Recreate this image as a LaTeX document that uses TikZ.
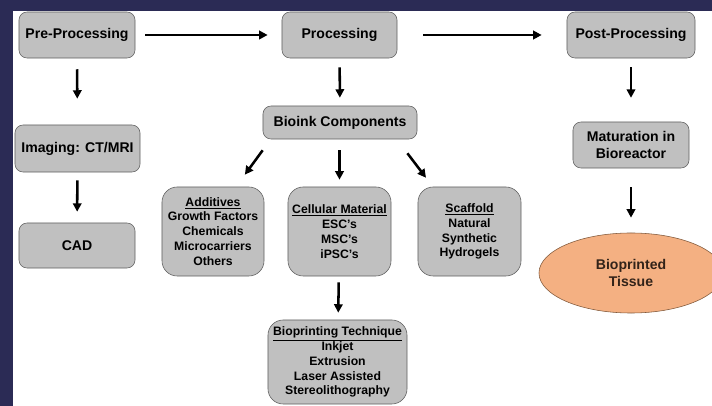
\documentclass[tikz,border=0pt]{standalone}
\usepackage{fontspec}
\setmainfont{Liberation Sans}
\usetikzlibrary{arrows.meta,shapes.geometric}
\definecolor{slidebg}{RGB}{43,43,85}
\definecolor{boxgray}{RGB}{192,192,192}
\definecolor{boxline}{RGB}{95,95,95}
\definecolor{tissue}{RGB}{244,176,130}
\definecolor{tissueline}{RGB}{130,90,60}

\begin{document}
\begin{tikzpicture}[x=0.025cm,y=-0.025cm,
    stage/.style={draw=boxline,fill=boxgray,rounded corners=0.2cm,inner sep=0pt,align=center,
      font=\bfseries\fontsize{10}{12.6}\selectfont},
    listbox/.style={stage,rounded corners=0.38cm,font=\bfseries\fontsize{8.7}{10.6}\selectfont},
    flow/.style={line width=1.8pt,-{Triangle[length=6pt,width=6pt]}}]
            % slide background
            \fill[slidebg] (0,0) rectangle (712,406);
            \fill[white] (13,11) rectangle (712,406);
            \useasboundingbox (0,0) rectangle (712,406);
            % stages
            \node[stage,minimum width=2.9cm,minimum height=1.15cm] (pre) at (77,35) {Pre-Processing};
            \node[stage,minimum width=2.875cm,minimum height=1.15cm] (proc) at (339.5,35) {Processing};
            \node[stage,minimum width=3.2cm,minimum height=1.15cm] (post) at (631,35) {Post-Processing};
            \node[stage,minimum width=3.125cm,minimum height=1.175cm] (img) at (77.5,148.5) {Imaging: CT/MRI};
            \node[stage,minimum width=2.9cm,minimum height=1.125cm] (cad) at (77,245.5) {CAD};
            \node[stage,minimum width=3.85cm,minimum height=0.825cm] (bioink) at (340,122.5) {Bioink Components};
            \node[stage,minimum width=2.9cm,minimum height=1.15cm] (mat) at (631,145) {Maturation in\\Bioreactor};
            % components
            \node[listbox,minimum width=2.55cm,minimum height=2.225cm] (add) at (213,231.5)
                {\underline{Additives}\\Growth Factors\\Chemicals\\Microcarriers\\Others};
            \node[listbox,minimum width=2.575cm,minimum height=2.225cm] (cell) at (339.5,231.5)
                {\underline{Cellular Material}\\ESC's\\MSC's\\iPSC's};
            \node[listbox,minimum width=2.575cm,minimum height=2.225cm] (scaf) at (469.5,231.5)
                {\underline{Scaffold}\\Natural\\Synthetic\\Hydrogels};
            \node[listbox,minimum width=3.475cm,minimum height=2.1cm] (tech) at (337.5,362)
                {\underline{Bioprinting Technique}\\Inkjet\\Extrusion\\Laser Assisted\\Stereolithography};
            \node[ellipse,draw=tissueline,fill=tissue,inner sep=0pt,minimum width=4.6cm,minimum height=2cm,
                align=center,text={rgb,255:red,50;green,35;blue,25},font=\bfseries\fontsize{10}{12}\selectfont]
                (tiss) at (631,273) {Bioprinted\\Tissue};
            % arrows
            \draw[flow,shorten <=7.1pt,shorten >=10pt] (pre) -- (proc);
            \draw[flow,shorten <=18.5pt,shorten >=17.8pt] (proc) -- (post);
            \draw[flow,shorten <=7.8pt,shorten >=18.5pt] (pre) -- (img);
            \draw[flow,shorten <=5.7pt,shorten >=7.8pt] (img) -- (cad);
            \draw[flow,shorten <=6.4pt,shorten >=5.7pt] (proc) -- (bioink);
            \draw[flow,shorten <=7.8pt,shorten >=5pt] (bioink.south -| cell) -- (cell);
            \draw[flow,shorten <=9.7pt,shorten >=10.6pt] ([xshift=5.7pt]bioink.south west) -- ([xshift=16.4pt]add.north);
            \draw[flow,shorten <=12.5pt,shorten >=8pt] ([xshift=-14.6pt]bioink.south east) -- ([xshift=-26.1pt]scaf.north);
            \draw[flow,shorten <=4.3pt,shorten >=5pt] (cell) -- (tech);
            \draw[flow,shorten <=6.4pt,shorten >=17pt] (post) -- (mat);
            \draw[flow,shorten <=13.5pt,shorten >=10.7pt] (mat) -- (tiss);
        \end{tikzpicture}
\end{document}
